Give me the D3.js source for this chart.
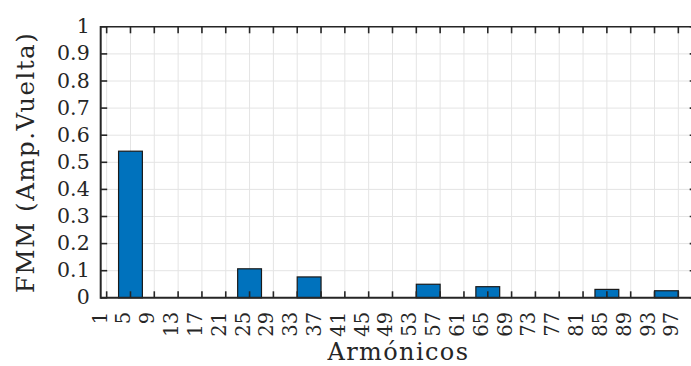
<!DOCTYPE html>
<html>
<head>
<meta charset="utf-8">
<script src="https://cdn.jsdelivr.net/npm/d3@7"></script>
<style>
  html, body { margin: 0; padding: 0; background: #fff; }
  svg { display: block; }
  text { font-family: "DejaVu Serif", serif; fill: #262626; }
</style>
</head>
<body>
<svg id="chart" width="691" height="366"></svg>
<script>
// Harmonic orders and their MMF amplitude
const harmonics = [5, 25, 35, 55, 65, 85, 95];
const fmmValues = [0.541, 0.107, 0.077, 0.050, 0.041, 0.031, 0.026];

// Axis ticks and titles
const xTickValues = d3.range(1, 98, 4);
const yTickValues = d3.range(0, 11).map(i => i / 10);
const xTitle = "Armónicos";
const yTitle = "FMM (Amp.Vuelta)";

const svg = d3.select("#chart");
const x = d3.scaleLinear().domain([0, 100]).range([100.7, 696.2]);
const y = d3.scaleLinear().domain([0, 1]).range([297.8, 26.8]);
const barWidth = 4;      // in harmonic units
const tickLen = 6.5;
const axisColor = "#262626";

// grid
const grid = svg.append("g");
grid.selectAll("line.gx").data(xTickValues).join("line")
  .attr("x1", d => x(d)).attr("x2", d => x(d))
  .attr("y1", y(0)).attr("y2", y(1))
  .attr("stroke", "#e4e4e4").attr("stroke-width", 1);
grid.selectAll("line.gy").data(yTickValues).join("line")
  .attr("x1", x(0)).attr("x2", x(100))
  .attr("y1", d => y(d)).attr("y2", d => y(d))
  .attr("stroke", "#e4e4e4").attr("stroke-width", 1);

// bars
const bars = harmonics.map((h, i) => ({ h, v: fmmValues[i] }));
svg.append("g").selectAll("rect").data(bars).join("rect")
  .attr("x", d => x(d.h - barWidth / 2))
  .attr("width", x(barWidth) - x(0))
  .attr("y", d => y(d.v))
  .attr("height", d => y(0) - y(d.v))
  .attr("fill", "#0072BD")
  .attr("stroke", "#1a1a1a")
  .attr("stroke-width", 1.2);

// axes box
const box = svg.append("g").attr("stroke", axisColor).attr("fill", "none");
box.append("line").attr("x1", x(0)).attr("x2", x(100)).attr("y1", y(0)).attr("y2", y(0)).attr("stroke-width", 2);
box.append("line").attr("x1", x(0)).attr("x2", x(100)).attr("y1", y(1)).attr("y2", y(1)).attr("stroke-width", 1.6);
box.append("line").attr("x1", x(0)).attr("x2", x(0)).attr("y1", y(0) + 1).attr("y2", y(1) - 0.8).attr("stroke-width", 2);
box.append("line").attr("x1", x(100)).attr("x2", x(100)).attr("y1", y(0)).attr("y2", y(1)).attr("stroke-width", 1.6);

// ticks (pointing inward, on all four sides)
const ticks = svg.append("g").attr("stroke", axisColor).attr("stroke-width", 1.6);
ticks.selectAll("line.xb").data(xTickValues).join("line")
  .attr("x1", d => x(d)).attr("x2", d => x(d))
  .attr("y1", y(0)).attr("y2", y(0) - tickLen);
ticks.selectAll("line.xt").data(xTickValues).join("line")
  .attr("x1", d => x(d)).attr("x2", d => x(d))
  .attr("y1", y(1)).attr("y2", y(1) + tickLen);
ticks.selectAll("line.yl").data(yTickValues).join("line")
  .attr("x1", x(0)).attr("x2", x(0) + tickLen)
  .attr("y1", d => y(d)).attr("y2", d => y(d));
ticks.selectAll("line.yr").data(yTickValues).join("line")
  .attr("x1", x(100)).attr("x2", x(100) - tickLen)
  .attr("y1", d => y(d)).attr("y2", d => y(d));

// y tick labels
svg.append("g").selectAll("text").data(yTickValues).join("text")
  .attr("x", x(0) - 11)
  .attr("y", d => y(d))
  .attr("dy", "0.32em")
  .attr("text-anchor", "end")
  .style("font-size", "20.5px")
  .text(d => d3.format("~g")(d));

// x tick labels, rotated
svg.append("g").selectAll("text").data(xTickValues).join("text")
  .attr("transform", d => `translate(${x(d)},${y(0) + 14}) rotate(-90)`)
  .attr("text-anchor", "end")
  .style("font-size", "19.5px")
  .text(d => d);

// axis titles
svg.append("text")
  .attr("x", (x(0) + x(100)) / 2)
  .attr("y", 360)
  .attr("text-anchor", "middle")
  .style("font-size", "24px")
  .style("letter-spacing", "1.4px")
  .text(xTitle);

svg.append("text")
  .attr("transform", `translate(33.5,${(y(0) + y(1)) / 2}) rotate(-90)`)
  .attr("text-anchor", "middle")
  .style("font-size", "24.5px")
  .style("letter-spacing", "1.5px")
  .text(yTitle);
</script>
</body>
</html>
